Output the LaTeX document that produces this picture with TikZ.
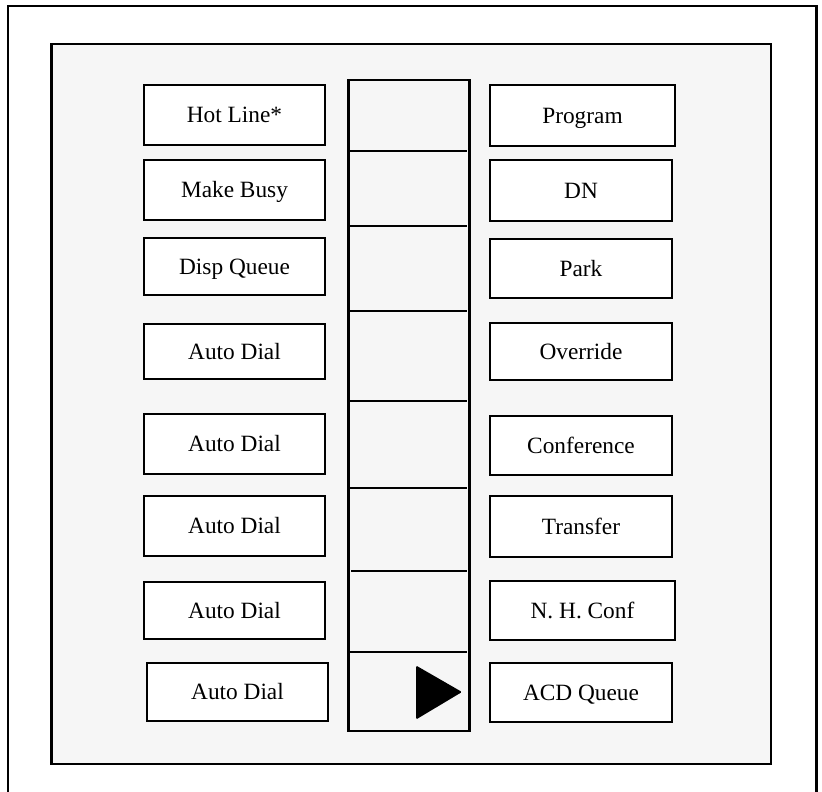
\documentclass[tikz,border=0pt]{standalone}
\usepackage{fontspec}
\setmainfont{Liberation Serif}
\definecolor{panelgray}{HTML}{F6F6F6}
\tikzset{
  px/.style={x=0.75pt,y=-0.75pt},
  frame/.style={line width=1.9pt,draw=black},
  btn/.style={draw=black,line width=2pt,fill=white,inner sep=0pt,
    text height=11.4pt,text depth=0pt,
    font=\fontsize{17.5}{20}\selectfont,text=black},
  divider/.style={line width=1.9pt,draw=black},
}
\newcommand\mybtn[6]{%
  \node[btn,minimum width={(#4-#2)*0.75pt},minimum height={(#5-#3)*0.75pt}]
    (#1) at ({(#2+#4)/2},{(#3+#5)/2}) {#6};}
\begin{document}
\begin{tikzpicture}[px]
\useasboundingbox (0,0) rectangle (822,792);
% outer frame (open at bottom)
\draw[frame] (8,800) -- (8,5.8) -- (816.7,5.8) -- (816.7,800);
% panel
\node[frame,fill=panelgray,minimum width={(771-51.5)*0.75pt},minimum height={(764-44)*0.75pt},inner sep=0pt]
  (panel) at ({(51.5+771)/2},{(44+764)/2}) {};
% left buttons
\mybtn{l1}{144}{85}{325}{145}{Hot Line*}
\mybtn{l2}{144}{160}{325}{220}{Make Busy}
\mybtn{l3}{144}{238}{325}{295}{Disp Queue}
\mybtn{l4}{144}{324}{325}{379}{Auto Dial}
\mybtn{l5}{144}{414}{325}{474}{Auto Dial}
\mybtn{l6}{144}{496}{325}{556}{Auto Dial}
\mybtn{l7}{144}{582}{325}{639}{Auto Dial}
\mybtn{l8}{147}{663}{328}{721}{Auto Dial}
% right buttons
\mybtn{r1}{490}{85}{675}{146}{Program}
\mybtn{r2}{490}{160}{672}{221}{DN}
\mybtn{r3}{490}{239}{672}{298}{Park}
\mybtn{r4}{490}{323}{672}{380}{Override}
\mybtn{r5}{490}{416}{672}{475}{Conference}
\mybtn{r6}{490}{496}{672}{557}{Transfer}
\mybtn{r7}{490}{581}{675}{640}{N. H. Conf}
\mybtn{r8}{490}{663}{672}{722}{ACD Queue}
% middle column
\node[frame,minimum width={(469.5-348.5)*0.75pt},minimum height={(731-80)*0.75pt},inner sep=0pt]
  (col) at ({(348.5+469.5)/2},{(80+731)/2}) {};
\foreach \yy/\xa in {151/348.5,226/348.5,311/348.5,401/348.5,488/348.5,571/351,652/348.5}
  \draw[divider] (\xa,\yy) -- (467,\yy);
% arrow triangle
\fill[black,rounded corners=1pt] (416,665.5) -- (462,692) -- (416,719.5) -- cycle;
\end{tikzpicture}
\end{document}
